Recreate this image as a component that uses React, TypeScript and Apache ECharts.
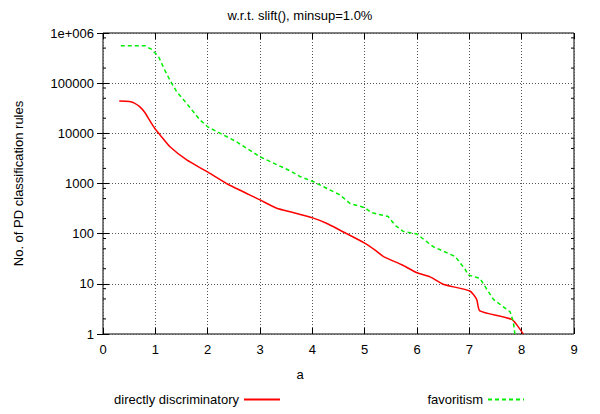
import React, { useEffect, useRef } from 'react';
import * as echarts from 'echarts';

const titleText = 'w.r.t. slift(), minsup=1.0%';
const xAxisName = 'a';
const yAxisName = 'No. of PD classification rules';
const redName = 'directly discriminatory';
const greenName = 'favoritism';

const redX = [0.31, 0.5, 0.6, 0.7, 0.8, 0.9, 0.99, 1.09, 1.28, 1.6, 1.98, 2.36, 3.0, 3.32, 3.63, 4.02, 4.27, 4.53, 5.0, 5.2, 5.36, 5.71, 6.0, 6.25, 6.5, 7.01, 7.14, 7.2, 7.81, 8.03];
const redY = [44000, 43000, 40000, 34000, 26000, 17500, 12500, 9300, 5400, 2950, 1740, 1000, 470, 320, 265, 204, 161, 117, 65, 47, 35, 24, 16.6, 13.8, 9.8, 7.2, 4.9, 2.9, 1.95, 1.0];

const greenX = [0.34, 0.8, 0.93, 1.06, 1.18, 1.31, 1.41, 1.63, 1.85, 2.0, 2.55, 3.0, 3.6, 3.76, 4.01, 4.53, 4.72, 5.0, 5.13, 5.45, 5.58, 5.73, 6.0, 6.31, 6.73, 6.92, 6.98, 7.2, 7.46, 7.78, 7.84, 7.87];
const greenY = [560000, 560000, 470000, 340000, 182000, 100000, 67000, 36000, 18600, 13500, 6800, 3400, 1740, 1380, 1100, 590, 400, 330, 263, 219, 148, 112, 98, 55, 35, 19.5, 15, 12.9, 4.9, 2.75, 1.76, 1.0];

const xTicks = [0, 1, 2, 3, 4, 5, 6, 7, 8, 9];
const yTickLabels = ['1', '10', '100', '1000', '10000', '100000', '1e+006'];
const yMinorTicks = [2, 5, 8, 20, 50, 80, 200, 500, 800, 2000, 5000, 8000, 20000, 50000, 80000, 200000, 500000, 800000];

const FONT = "'Liberation Sans', Arial, Helvetica, sans-serif";

export default function App() {
  const ref = useRef<HTMLDivElement>(null);
  useEffect(() => {
    document.body.style.margin = '0';
    const chart = echarts.init(ref.current!, null, { renderer: 'svg' });
    const gridColor = '#555';
    const legendBase = {
      top: 393, align: 'right', itemWidth: 36, itemHeight: 14, padding: 0,
      itemStyle: { opacity: 0, borderWidth: 0 },
      textStyle: { fontSize: 13, color: '#000', fontFamily: FONT },
    };
    chart.setOption({
      animation: false,
      backgroundColor: '#fff',
      textStyle: { fontFamily: FONT },
      title: [
        { text: titleText, left: 'center', top: 4, textStyle: { fontSize: 13, fontWeight: 'normal', color: '#000', fontFamily: FONT } },
        { text: xAxisName, left: 'center', top: 363, textStyle: { fontSize: 13, fontWeight: 'normal', color: '#000', fontFamily: FONT } },
      ],
      grid: { left: 103, right: 26, top: 33, bottom: 80, show: true, borderColor: '#000', borderWidth: 1, backgroundColor: 'transparent' },
      legend: [
        { ...legendBase, data: [{ name: redName }], right: 319 },
        { ...legendBase, data: [{ name: greenName }], right: 75 },
      ],
      xAxis: [
        {
          type: 'value', min: xTicks[0], max: xTicks[xTicks.length - 1], interval: 1, position: 'bottom',
          axisLine: { show: false },
          axisTick: { show: true, inside: true, length: 6, lineStyle: { color: '#000' } },
          axisLabel: { fontSize: 13, color: '#000', margin: 9, fontFamily: FONT },
          splitLine: { show: true, lineStyle: { color: gridColor, type: [1, 2], width: 1 } },
        },
        {
          type: 'value', min: xTicks[0], max: xTicks[xTicks.length - 1], interval: 1, position: 'top',
          axisLine: { show: false },
          axisTick: { show: true, inside: true, length: 6, lineStyle: { color: '#000' } },
          axisLabel: { show: false },
          splitLine: { show: false },
        },
      ],
      yAxis: [
        {
          type: 'log', logBase: 10, min: 1, max: 1000000, position: 'left',
          name: yAxisName, nameLocation: 'middle', nameGap: 78,
          nameTextStyle: { fontSize: 13, color: '#000', fontFamily: FONT },
          axisLine: { show: false },
          axisTick: { show: true, inside: true, length: 6, lineStyle: { color: '#000' } },
          axisLabel: {
            fontSize: 13, color: '#000', margin: 9, fontFamily: FONT,
            formatter: (v: number) => yTickLabels[Math.round(Math.log10(v))] ?? String(v),
          },
          splitLine: { show: true, lineStyle: { color: gridColor, type: [1, 2], width: 1 } },
        },
        {
          type: 'log', logBase: 10, min: 1, max: 1000000, position: 'right',
          axisLine: { show: false },
          axisTick: { show: true, inside: true, length: 6, lineStyle: { color: '#000' } },
          axisLabel: { show: false },
          splitLine: { show: false },
        },
      ],
      series: [
        {
          type: 'custom', name: 'minorTicks', coordinateSystem: 'cartesian2d', xAxisIndex: 0, yAxisIndex: 0,
          silent: true, encode: { x: 0, y: 1 },
          data: yMinorTicks.map((v) => [0, v]),
          renderItem: (_p: any, api: any) => {
            const v = api.value(1);
            const a = api.coord([xTicks[0], v]);
            const b = api.coord([xTicks[xTicks.length - 1], v]);
            return {
              type: 'group',
              children: [
                { type: 'line', shape: { x1: a[0], y1: a[1], x2: a[0] + 3, y2: a[1] }, style: { stroke: '#000', lineWidth: 1 } },
                { type: 'line', shape: { x1: b[0] - 3, y1: b[1], x2: b[0], y2: b[1] }, style: { stroke: '#000', lineWidth: 1 } },
              ],
            };
          },
        },
        {
          type: 'line', name: redName, symbol: 'none', smooth: 0.2,
          data: redX.map((x, i) => [x, redY[i]]),
          lineStyle: { color: '#ff0000', width: 1.5 },
          itemStyle: { color: '#ff0000' },
        },
        {
          type: 'line', name: greenName, symbol: 'none', smooth: false,
          data: greenX.map((x, i) => [x, greenY[i]]),
          lineStyle: { color: '#00ee00', width: 1.5, type: [4, 3] },
          itemStyle: { color: '#00ee00' },
        },
      ],
    });
    return () => chart.dispose();
  }, []);
  return <div ref={ref} style={{ width: 600, height: 414 }} />;
}
